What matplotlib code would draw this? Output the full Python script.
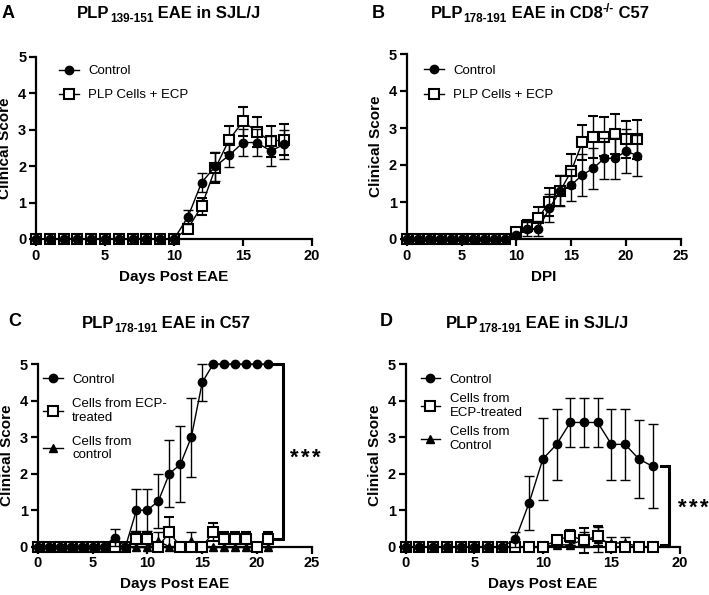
import numpy as np
import matplotlib
matplotlib.use("Agg")
import matplotlib.pyplot as plt
from matplotlib.lines import Line2D
from matplotlib.transforms import IdentityTransform

plt.rcParams['font.family'] = ['Liberation Sans', 'DejaVu Sans']

# ---- data ----
a_days = np.arange(0, 19)
a_control = [0, 0, 0, 0, 0, 0, 0, 0, 0, 0, 0, 0.6, 1.55, 2.0, 2.3, 2.65, 2.65, 2.42, 2.6]
a_control_err = [0, 0, 0, 0, 0, 0, 0, 0, 0, 0, 0, 0.19, 0.27, 0.4, 0.33, 0.38, 0.38, 0.42, 0.4]
a_ecp = [0, 0, 0, 0, 0, 0, 0, 0, 0, 0, 0, 0.28, 0.9, 1.95, 2.73, 3.23, 2.95, 2.68, 2.73]
a_ecp_err = [0, 0, 0, 0, 0, 0, 0, 0, 0, 0, 0, 0.1, 0.24, 0.4, 0.37, 0.39, 0.41, 0.42, 0.43]

b_days = np.arange(0, 22)
b_control = [0, 0, 0, 0, 0, 0, 0, 0, 0, 0, 0.1, 0.27, 0.28, 0.83, 1.3, 1.46,
             1.73, 1.91, 2.18, 2.18, 2.38, 2.25]
b_control_err = [0, 0, 0, 0, 0, 0, 0, 0, 0, 0, 0.05, 0.2, 0.2, 0.38, 0.42, 0.42,
                 0.57, 0.55, 0.55, 0.55, 0.6, 0.56]
b_ecp = [0, 0, 0, 0, 0, 0, 0, 0, 0, 0, 0.2, 0.35, 0.57, 1.0, 1.3, 1.84,
         2.61, 2.76, 2.77, 2.84, 2.69, 2.69]
b_ecp_err = [0, 0, 0, 0, 0, 0, 0, 0, 0, 0, 0.05, 0.17, 0.3, 0.38, 0.4, 0.45,
             0.48, 0.56, 0.52, 0.54, 0.49, 0.52]

c_days = np.arange(0, 22)
c_control = [0, 0, 0, 0, 0, 0, 0, 0.25, 0, 1.0, 1.0, 1.25, 2.0, 2.25, 3.0, 4.5,
             5, 5, 5, 5, 5, 5]
c_control_err = [0, 0, 0, 0, 0, 0, 0, 0.23, 0, 0.58, 0.58, 0.75, 0.92, 1.04, 1.08, 0.5,
                 0, 0, 0, 0, 0, 0]
c_ecp = [0, 0, 0, 0, 0, 0, 0, 0, 0, 0.2, 0.2, 0, 0.4, 0, 0, 0,
         0.4, 0.2, 0.2, 0.2, 0, 0.2]
c_ecp_err = [0, 0, 0, 0, 0, 0, 0, 0, 0, 0.2, 0.2, 0, 0.4, 0, 0, 0,
             0.24, 0.2, 0.2, 0.2, 0, 0.2]
c_ctrl_cells = [0, 0, 0, 0, 0, 0, 0, 0, 0, 0, 0, 0.15, 0, 0, 0.15, 0,
                0, 0, 0, 0, 0, 0]
c_ctrl_cells_err = [0, 0, 0, 0, 0, 0, 0, 0, 0, 0, 0, 0.25, 0, 0, 0.25, 0,
                    0, 0, 0, 0, 0, 0]

d_days = np.arange(0, 19)
d_control = [0, 0, 0, 0, 0, 0, 0, 0, 0.2, 1.2, 2.4, 2.8, 3.4, 3.4, 3.4, 2.8, 2.8, 2.4, 2.2]
d_control_err = [0, 0, 0, 0, 0, 0, 0, 0, 0.2, 0.73, 1.12, 0.97, 0.68, 0.68, 0.68, 0.97,
                 0.97, 1.07, 1.15]
d_ecp = [0, 0, 0, 0, 0, 0, 0, 0, 0, 0, 0, 0.17, 0.3, 0.17, 0.3, 0, 0, 0, 0]
d_ecp_err = [0, 0, 0, 0, 0, 0, 0, 0, 0, 0, 0, 0.05, 0.17, 0.33, 0.27, 0, 0, 0, 0]
d_ctrl_cells = [0, 0, 0, 0, 0, 0, 0, 0, 0, 0, 0, 0.05, 0.05, 0.2, 0.2, 0.1, 0.1, 0, 0]
d_ctrl_cells_err = [0, 0, 0, 0, 0, 0, 0, 0, 0, 0, 0, 0, 0, 0.2, 0.35, 0.17, 0.17, 0, 0]

# ---- styles ----
STYLES = {
    'circle': dict(marker='o', markersize=6, markerfacecolor='black', markeredgecolor='black'),
    'square': dict(marker='s', markersize=7, markerfacecolor='white', markeredgecolor='black',
                   markeredgewidth=1.5),
    'triangle': dict(marker='^', markersize=6, markerfacecolor='black', markeredgecolor='black'),
}
Z = {'triangle': 3, 'square': 4, 'circle': 5}

fig = plt.figure(figsize=(7.09, 5.95), dpi=100)
W, H = 709, 595


def make_axes(l, r, t, b):
    # pixel box -> figure fraction
    return fig.add_axes([l / W, 1 - b / H, (r - l) / W, (b - t) / H])


def style_axes(ax, xmax, xlabel):
    ax.set_xlim(0, xmax)
    ax.set_ylim(0, 5)
    ax.set_xticks(np.arange(0, xmax + 1, 5))
    ax.set_yticks(np.arange(0, 6))
    for s in ['top', 'right']:
        ax.spines[s].set_visible(False)
    for s in ['left', 'bottom']:
        ax.spines[s].set_linewidth(1.6)
    ax.tick_params(direction='out', length=5, width=1.6, pad=2, labelsize=10.5)
    for lab in ax.get_xticklabels() + ax.get_yticklabels():
        lab.set_fontweight('bold')
    ax.set_xlabel(xlabel, fontsize=11, fontweight='bold', labelpad=5)
    ax.set_ylabel('Clinical Score', fontsize=11, fontweight='bold', labelpad=4)


def draw_series(ax, x, y, err, kind):
    ax.errorbar(x, y, yerr=err, color='black', lw=1, elinewidth=1, capsize=3.5,
                capthick=1, clip_on=False, zorder=Z[kind], **STYLES[kind])


def add_legend(ax, kinds, labels, anchor, spacing=0.9):
    handles = [Line2D([], [], color='black', lw=1, **STYLES[k]) for k in kinds]
    ax.legend(handles, labels, loc='upper left', bbox_to_anchor=anchor, frameon=False,
              fontsize=9.5, handlelength=1.5, handletextpad=0.7, labelspacing=spacing,
              borderaxespad=0)


def stars(ax, xs, y):
    # significance marks, one asterisk per position
    for x in xs:
        ax.text(x, y, '*', fontsize=16, fontweight='bold', ha='center', va='center')


def rich_text(x_px, y_px, parts):
    # parts: (text, size, baseline shift in px); centred at x_px, baseline y_px (from top)
    renderer = fig.canvas.get_renderer()
    items = []
    total = 0
    for s, size, dy in parts:
        t = fig.text(0, 0, s, fontsize=size, fontweight='bold', va='baseline', ha='left',
                     transform=IdentityTransform())
        w = t.get_window_extent(renderer).width
        items.append((t, w, dy))
        total += w
    x0 = x_px - total / 2
    for t, w, dy in items:
        t.set_position((x0, H - y_px + dy))
        x0 += w


def letter(x_px, y_px, s):
    fig.text(x_px / W, 1 - y_px / H, s, fontsize=13, fontweight='bold', va='baseline')


T, S = 12, 8.5   # title / subscript sizes

# ---- panel A ----
axA = make_axes(36, 312, 57, 239)
style_axes(axA, 20, 'Days Post EAE')
draw_series(axA, a_days, a_ecp, a_ecp_err, 'square')
draw_series(axA, a_days, a_control, a_control_err, 'circle')
add_legend(axA, ['circle', 'square'], ['Control', 'PLP Cells + ECP'], (0.065, 0.985))
letter(2, 18, 'A')
rich_text(169, 18, [('PLP', T, 0), ('139-151', S, -4), (' EAE in SJL/J', T, 0)])

# ---- panel B ----
axB = make_axes(406.7, 681, 54, 239)
style_axes(axB, 25, 'DPI')
draw_series(axB, b_days, b_ecp, b_ecp_err, 'square')
draw_series(axB, b_days, b_control, b_control_err, 'circle')
add_legend(axB, ['circle', 'square'], ['Control', 'PLP Cells + ECP'], (0.045, 0.97))
letter(372, 18, 'B')
rich_text(540, 18, [('PLP', T, 0), ('178-191', S, -4), (' EAE in CD8', T, 0),
                    ('-/-', S, 6), (' C57', T, 0)])

# ---- panel C ----
axC = make_axes(37.7, 312, 364, 546.7)
style_axes(axC, 25, 'Days Post EAE')
draw_series(axC, c_days, c_ctrl_cells, c_ctrl_cells_err, 'triangle')
draw_series(axC, c_days, c_ecp, c_ecp_err, 'square')
draw_series(axC, c_days, c_control, c_control_err, 'circle')
add_legend(axC, ['circle', 'square', 'triangle'],
           ['Control', 'Cells from ECP-\ntreated', 'Cells from\ncontrol'], (0.0, 0.975))
axC.plot([21.5, 22.35, 22.35, 21.5], [5, 5, 0.2, 0.2], color='black', lw=2.2,
         clip_on=False, solid_joinstyle='miter')
stars(axC, [23.4, 24.4, 25.4], 2.42)
letter(8, 326, 'C')
rich_text(166, 328, [('PLP', T, 0), ('178-191', S, -4), (' EAE in C57', T, 0)])

# ---- panel D ----
axD = make_axes(405.7, 680, 364, 546.7)
style_axes(axD, 20, 'Days Post EAE')
draw_series(axD, d_days, d_ctrl_cells, d_ctrl_cells_err, 'triangle')
draw_series(axD, d_days, d_ecp, d_ecp_err, 'square')
draw_series(axD, d_days, d_control, d_control_err, 'circle')
add_legend(axD, ['circle', 'square', 'triangle'],
           ['Control', 'Cells from\nECP-treated', 'Cells from\nControl'], (0.035, 0.975),
           spacing=0.55)
axD.plot([18.6, 19.2, 19.2, 18.6], [2.2, 2.2, 0.05, 0.05], color='black', lw=2.2,
         clip_on=False, solid_joinstyle='miter')
stars(axD, [20.2, 21.0, 21.8], 1.06)
letter(380, 326, 'D')
rich_text(537, 328, [('PLP', T, 0), ('178-191', S, -4), (' EAE in SJL/J', T, 0)])

fig.savefig('out.png', dpi=100)
